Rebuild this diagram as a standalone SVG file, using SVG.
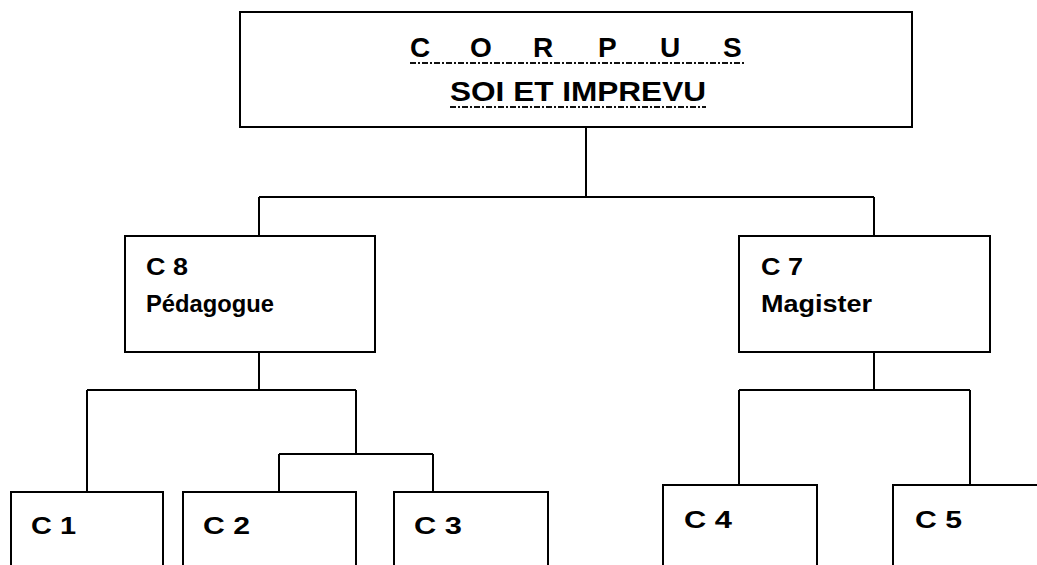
<svg xmlns="http://www.w3.org/2000/svg" width="1037" height="565" viewBox="0 0 1037 565">
<style>
.box{fill:#fff;stroke:#000;stroke-width:2}
.conn{fill:none;stroke:#000;stroke-width:2}
.t{font-family:"Liberation Sans",Arial,sans-serif;font-weight:bold;fill:#000}
.n{font-size:23px}
.big{font-size:28px}
.ul{stroke:#111;stroke-width:2;stroke-dasharray:6 2 2 2}
</style>
<rect width="1037" height="565" fill="#fff"/>
<g id="connectors">
<path class="conn" d="M586 127V197M259 197H874M259 197V236M874 197V236"/>
<path class="conn" d="M259 352V390M87 390H356M87 390V492M356 390V454M279 454H433M279 454V492M433 454V492"/>
<path class="conn" d="M874 352V390M739 390H970M739 390V485M970 390V485"/>
</g>
<g id="corpus">
<rect class="box" x="240" y="12" width="672" height="115"/>
<text class="t big" x="410 430 470 490 533 553 598 618 660 680 723" y="57">C O R P U S</text>
<line class="ul" x1="410" y1="63" x2="745" y2="63"/>
<text class="t big" x="450" y="101" textLength="256" lengthAdjust="spacingAndGlyphs">SOI ET IMPREVU</text>
<line class="ul" x1="450" y1="107" x2="706" y2="107"/>
</g>
<g id="c8">
<rect class="box" x="125" y="236" width="250" height="116"/>
<text class="t n" x="146" y="275" textLength="42" lengthAdjust="spacingAndGlyphs">C 8</text>
<text class="t n" x="146" y="312" textLength="128" lengthAdjust="spacingAndGlyphs">Pédagogue</text>
</g>
<g id="c7">
<rect class="box" x="739" y="236" width="251" height="116"/>
<text class="t n" x="761" y="275" textLength="42" lengthAdjust="spacingAndGlyphs">C 7</text>
<text class="t n" x="761" y="312" textLength="111" lengthAdjust="spacingAndGlyphs">Magister</text>
</g>
<g id="c1">
<rect class="box" x="11" y="492" width="152" height="110"/>
<text class="t n" x="31" y="534" textLength="45" lengthAdjust="spacingAndGlyphs">C 1</text>
</g>
<g id="c2">
<rect class="box" x="183" y="492" width="173" height="110"/>
<text class="t n" x="203" y="534" textLength="47" lengthAdjust="spacingAndGlyphs">C 2</text>
</g>
<g id="c3">
<rect class="box" x="394" y="492" width="154" height="110"/>
<text class="t n" x="414" y="534" textLength="48" lengthAdjust="spacingAndGlyphs">C 3</text>
</g>
<g id="c4">
<rect class="box" x="663" y="485" width="154" height="110"/>
<text class="t n" x="684" y="528" textLength="48" lengthAdjust="spacingAndGlyphs">C 4</text>
</g>
<g id="c5">
<rect class="box" x="893" y="485" width="200" height="110"/>
<text class="t n" x="915" y="528" textLength="47" lengthAdjust="spacingAndGlyphs">C 5</text>
</g>
</svg>
